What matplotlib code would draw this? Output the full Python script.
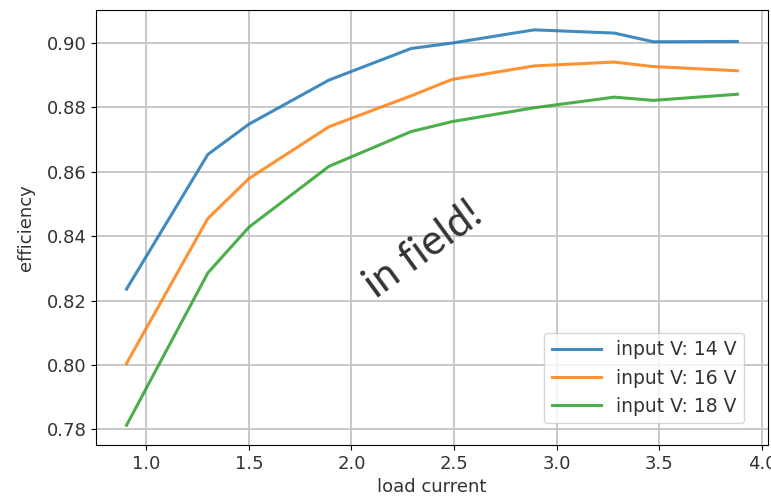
import matplotlib
matplotlib.use("Agg")
import matplotlib.pyplot as plt

# load current values (x axis)
load_current = [0.904, 1.30, 1.50, 1.89, 2.29, 2.49, 2.89, 3.28, 3.47, 3.88]

# efficiency per input voltage
eff_14v = [0.8236, 0.8654, 0.8748, 0.8885, 0.8983, 0.9000, 0.9041, 0.9031, 0.9004, 0.9005]
eff_16v = [0.8005, 0.8455, 0.8579, 0.8740, 0.8836, 0.8887, 0.8929, 0.8941, 0.8927, 0.8914]
eff_18v = [0.7813, 0.8286, 0.8428, 0.8617, 0.8725, 0.8756, 0.8799, 0.8832, 0.8822, 0.8841]

labels = ['input V: 14 V', 'input V: 16 V', 'input V: 18 V']

text_col = '#333333'

fig = plt.figure(figsize=(7.71, 5.04), dpi=100)
ax = fig.add_axes([0.1245, 0.117, 0.8715, 0.863])

for eff, lab in zip([eff_14v, eff_16v, eff_18v], labels):
    ax.plot(load_current, eff, label=lab, linewidth=2.2, alpha=0.85)

ax.grid(True, color='#c4c4c4', linewidth=1.3)
ax.set_xlabel('load current', fontsize=13, color=text_col, labelpad=4)
ax.set_ylabel('efficiency', fontsize=13, color=text_col, labelpad=8)
ax.tick_params(labelsize=13, labelcolor=text_col)
leg = ax.legend(loc='lower right', fontsize=13.5, handlelength=2.6,
                bbox_to_anchor=(0.978, 0.028))
for t in leg.get_texts():
    t.set_color(text_col)

ax.text(0.487, 0.45, 'in field!', transform=ax.transAxes, fontsize=30,
        rotation=36, color=text_col, ha='center', va='center', family='Lato')

fig.savefig('out.png', dpi=100)
